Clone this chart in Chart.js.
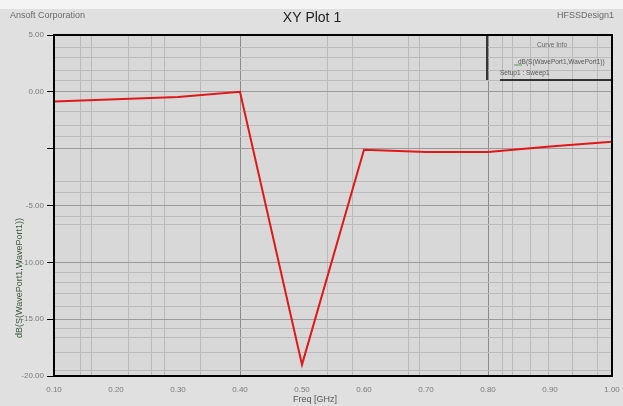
<!DOCTYPE html>
<html>
<head>
<meta charset="utf-8">
<script src="https://cdn.jsdelivr.net/npm/chart.js@4/dist/chart.umd.min.js"></script>
<style>
  html, body { margin: 0; padding: 0; background: #e0e0e0; }
  #wrap { width: 623px; height: 406px; }
</style>
</head>
<body>
<div id="wrap"><canvas id="c" width="623" height="406"></canvas></div>
<script>
// Frequency sweep points (GHz) and the return loss at each (dB)
const freqs = [0.1, 0.2, 0.3, 0.4, 0.5, 0.6, 0.7, 0.8, 0.9, 1.0];
const s11 = [-0.85, -0.65, -0.45, 0.0, -24.0, -5.1, -5.3, -5.3, -4.8, -4.4];

// Axis tick values and the text printed beside them
const xTickValues = [0.1, 0.2, 0.3, 0.4, 0.5, 0.6, 0.7, 0.8, 0.9, 1.0];
const xTickLabels = ['0.10', '0.20', '0.30', '0.40', '0.50', '0.60', '0.70', '0.80', '0.90', '1.00'];
const yTickValues = [5, 0, -5, -10, -15, -20, -25];
const yTickLabels = ['5.00', '0.00', '', '-5.00', '-10.00', '-15.00', '-20.00'];

// Light grid lines between the labelled ticks
const xMinorGrid = [0.142, 0.161, 0.220, 0.258, 0.279, 0.337, 0.541, 0.582, 0.671, 0.690, 0.755,
                    0.823, 0.839, 0.868, 0.897, 0.937, 0.976];
const yMinorGrid = [3.86, 2.98, 1.92, 1.04, -1.77, -2.92, -3.97, -7.93, -8.9, -11.0, -11.7,
                    -15.9, -16.8, -17.7, -18.9, -20.8, -21.6, -22.97, -24.5];
const xDarkGrid = [0.4, 0.8];

const FONT = "'Liberation Sans Narrow', 'Liberation Sans', Arial, sans-serif";

const frame = {
  id: 'frame',
  beforeDraw(chart) {
    const { ctx, chartArea: a } = chart;
    ctx.save();
    ctx.fillStyle = '#e0e0e0';
    ctx.fillRect(0, 0, chart.width, chart.height);
    ctx.fillStyle = '#f4f4f4';
    ctx.fillRect(0, 0, chart.width, 9);
    ctx.fillStyle = '#d8d8d8';
    ctx.fillRect(a.left, a.top, a.right - a.left, a.bottom - a.top);
    ctx.restore();
  },
  afterDraw(chart) {
    const { ctx, chartArea: a } = chart;
    ctx.save();
    // plot border
    ctx.strokeStyle = '#000';
    ctx.lineWidth = 2;
    ctx.strokeRect(a.left, a.top, a.right - a.left, a.bottom - a.top);

    // header texts
    ctx.textBaseline = 'middle';
    ctx.fillStyle = '#6a6a6a';
    ctx.font = '9px ' + FONT;
    ctx.textAlign = 'left';
    ctx.fillText('Ansoft Corporation', 10, 16);
    ctx.textAlign = 'right';
    ctx.fillText('HFSSDesign1', 614, 16);
    ctx.fillStyle = '#222';
    ctx.font = '14px ' + FONT;
    ctx.textAlign = 'center';
    ctx.fillText('XY Plot 1', 312, 18);

    // axis titles
    ctx.fillStyle = '#555';
    ctx.font = '9px ' + FONT;
    ctx.fillText('Freq [GHz]', 315, 400);
    ctx.save();
    ctx.translate(20, 278);
    ctx.rotate(-Math.PI / 2);
    ctx.fillStyle = '#3a5a3a';
    ctx.fillText('dB(S(WavePort1,WavePort1))', 0, 0);
    ctx.restore();

    // curve info box
    ctx.strokeStyle = '#000';
    ctx.lineWidth = 1.5;
    ctx.beginPath();
    ctx.moveTo(487, a.top);
    ctx.lineTo(487, 80);
    ctx.moveTo(500, 80);
    ctx.lineTo(a.right, 80);
    ctx.stroke();
    ctx.font = '6.5px ' + FONT;
    ctx.fillStyle = '#666';
    ctx.textAlign = 'center';
    ctx.fillText('Curve Info', 552, 45);
    ctx.textAlign = 'left';
    ctx.fillStyle = '#555';
    ctx.fillText('dB(S(WavePort1,WavePort1))', 518, 62);
    ctx.fillText('Setup1 : Sweep1', 500, 73);
    ctx.strokeStyle = '#7fb27f';
    ctx.lineWidth = 1.5;
    ctx.beginPath();
    ctx.moveTo(514, 65);
    ctx.lineTo(522, 65);
    ctx.stroke();
    ctx.restore();
  }
};

const hasVal = (arr, v) => arr.some(t => Math.abs(t - v) < 1e-6);

new Chart(document.getElementById('c'), {
  type: 'line',
  data: {
    datasets: [{
      label: 'dB(S(WavePort1,WavePort1))',
      data: freqs.map((f, i) => ({ x: f, y: s11[i] })),
      borderColor: '#e01818',
      borderWidth: 2,
      pointRadius: 0,
      tension: 0,
      fill: false
    }]
  },
  options: {
    responsive: false,
    animation: false,
    layout: { padding: { left: 0, right: 11, top: 35, bottom: 0 } },
    plugins: { legend: { display: false }, tooltip: { enabled: false }, title: { display: false } },
    scales: {
      x: {
        type: 'linear', position: 'bottom', min: 0.1, max: 1.0,
        afterBuildTicks: s => { s.ticks = xTickValues.map(v => ({ value: v })); },
        afterFit: s => { s.height = 30; s.paddingLeft = 0; s.paddingRight = 0; },
        border: { display: false },
        grid: {
          drawTicks: false,
          color: c => (c.tick && hasVal(xDarkGrid, c.tick.value)) ? '#8c8c8c' : 'rgba(0,0,0,0)',
          lineWidth: 1
        },
        ticks: {
          padding: 9,
          color: '#7a7a7a',
          font: { family: FONT, size: 8 },
          maxRotation: 0,
          autoSkip: false,
          callback: (v) => {
            const i = xTickValues.findIndex(t => Math.abs(t - v) < 1e-6);
            return i >= 0 ? xTickLabels[i] : '';
          }
        }
      },
      xg: {
        type: 'linear', position: 'bottom', min: 0.1, max: 1.0,
        afterBuildTicks: s => { s.ticks = xMinorGrid.map(v => ({ value: v })); },
        afterFit: s => { s.height = 0; s.paddingLeft = 0; s.paddingRight = 0; },
        border: { display: false },
        grid: { drawTicks: false, color: '#b9b9b9', lineWidth: 1 },
        ticks: { display: false }
      },
      y: {
        type: 'linear', position: 'left', min: -25, max: 5,
        afterBuildTicks: s => { s.ticks = yTickValues.map(v => ({ value: v })); },
        afterFit: s => { s.width = 54; s.paddingTop = 0; s.paddingBottom = 0; },
        border: { display: false },
        grid: {
          color: '#9a9a9a',
          tickColor: '#000',
          tickLength: 7,
          lineWidth: 1
        },
        ticks: {
          padding: 3,
          color: '#7a7a7a',
          font: { family: FONT, size: 8 },
          callback: (v) => {
            const i = yTickValues.findIndex(t => Math.abs(t - v) < 1e-6);
            return i >= 0 ? yTickLabels[i] : '';
          }
        }
      },
      yg: {
        type: 'linear', position: 'left', min: -25, max: 5,
        afterBuildTicks: s => { s.ticks = yMinorGrid.map(v => ({ value: v })); },
        afterFit: s => { s.width = 0; s.paddingTop = 0; s.paddingBottom = 0; },
        border: { display: false },
        grid: { drawTicks: false, color: '#bcbcbc', lineWidth: 1 },
        ticks: { display: false }
      }
    }
  },
  plugins: [frame]
});
</script>
</body>
</html>
